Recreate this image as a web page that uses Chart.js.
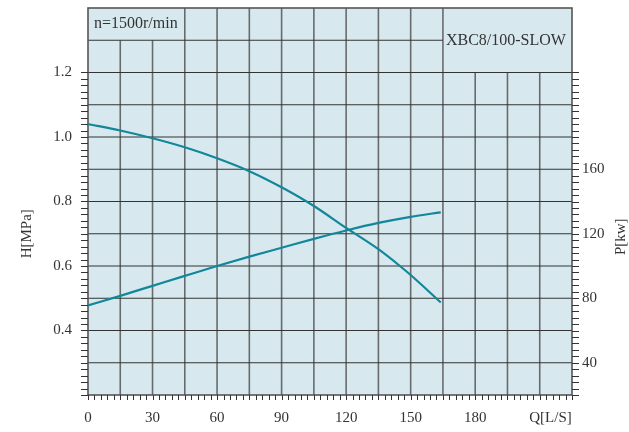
<!DOCTYPE html>
<html>
<head>
<meta charset="utf-8">
<script src="https://cdn.jsdelivr.net/npm/chart.js@4.4.1/dist/chart.umd.min.js"></script>
<style>
  html, body { margin: 0; padding: 0; background: #ffffff; }
  #wrap { width: 629px; height: 432px; position: relative; }
</style>
</head>
<body>
<div id="wrap"><canvas id="c" width="629" height="432"></canvas></div>
<script>
// ---- data ----
const Q_H = [0, 15, 30, 45, 60, 75, 90, 105, 120, 135, 145, 150, 164];
const H_VALUES = [1.04, 1.02, 0.996, 0.968, 0.934, 0.894, 0.844, 0.786, 0.718, 0.652, 0.600, 0.572, 0.487];
const Q_P = [0, 15, 30, 45, 60, 75, 90, 105, 120, 135, 150, 164];
const P_VALUES = [75.5, 81.5, 87.7, 93.9, 100, 105.8, 111.3, 116.8, 122.0, 126.7, 130.5, 133.3];
const X_TICKS = [0, 30, 60, 90, 120, 150, 180, 215];
const X_TICK_LABELS = ['0', '30', '60', '90', '120', '150', '180', 'Q[L/S]'];
const H_TICKS = [0.4, 0.6, 0.8, 1.0, 1.2];
const P_TICKS = [40, 80, 120, 160];
const SPEED_LABEL = 'n=1500r/min';
const MODEL_LABEL = 'XBC8/100-SLOW';
const H_TITLE = 'H[MPa]';
const P_TITLE = 'P[kw]';

const FONT = "'Liberation Serif', 'DejaVu Serif', serif";
const CURVE = '#13879a';
const TARGET_TOP = 8;

const gridPlugin = {
  id: 'pumpGrid',
  beforeDatasetsDraw(chart) {
    const ctx = chart.ctx;
    const sx = chart.scales.x, sy = chart.scales.y, sp = chart.scales.y1;
    const X = v => sx.getPixelForValue(v);
    const Y = v => sy.getPixelForValue(v);
    const YP = v => sp.getPixelForValue(v);
    const x0 = X(0), x1 = X(225), yT = Y(1.4), yB = Y(0.2);
    ctx.save();
    ctx.fillStyle = '#d7e9ef';
    ctx.fillRect(x0, yT, x1 - x0, yB - yT);

    const line = (ax, ay, bx, by) => { ctx.beginPath(); ctx.moveTo(ax, ay); ctx.lineTo(bx, by); ctx.stroke(); };

    // vertical grid lines
    ctx.strokeStyle = 'rgba(85,85,85,0.85)';
    ctx.lineWidth = 1.6;
    for (let q = 15; q <= 210; q += 15) {
      line(X(q), yB, X(q), Y(1.2));
      if (q <= 165) line(X(q), Y(1.2), X(q), Y(1.3));
      if (q >= 45 && q <= 165) line(X(q), Y(1.3), X(q), Y(1.4));
    }
    // horizontal grid lines
    ctx.strokeStyle = '#333333';
    ctx.lineWidth = 1.2;
    for (let i = 3; i <= 12; i++) {
      const h = i / 10;
      line(x0, Y(h), x1, Y(h));
    }
    line(x0, Y(1.3), X(165), Y(1.3));
    // frame
    ctx.strokeStyle = '#555555';
    ctx.lineWidth = 1.6;
    ctx.strokeRect(x0, yT, x1 - x0, yB - yT);

    // minor ticks
    ctx.strokeStyle = '#333333';
    ctx.lineWidth = 1;
    for (let i = 0; i <= 50; i++) {
      const y = Math.round(Y(0.2 + i * 0.02)) + 0.5;
      line(x0 - 7, y, x0, y);
    }
    for (let p = 20; p <= 220; p += 4) {
      const y = Math.round(YP(p)) + 0.5;
      line(x1, y, x1 + 7, y);
    }
    for (let q = 0; q <= 225; q += 3) {
      const x = Math.round(X(q)) + 0.5;
      line(x, yB, x, yB + 5);
    }

    // header labels
    ctx.fillStyle = '#333333';
    ctx.font = '16px ' + FONT;
    ctx.textBaseline = 'middle';
    ctx.textAlign = 'left';
    ctx.fillText(SPEED_LABEL, X(0) + 6, (Y(1.4) + Y(1.3)) / 2);
    ctx.fillText(MODEL_LABEL, X(165) + 3, Y(1.3) + 1);

    // axis titles
    ctx.font = '15px ' + FONT;
    ctx.textAlign = 'center';
    ctx.save();
    ctx.translate(27, (Y(1.2) + yB) / 2);
    ctx.rotate(-Math.PI / 2);
    ctx.fillText(H_TITLE, 0, 0);
    ctx.restore();
    ctx.save();
    ctx.translate(621, (Y(1.2) + yB) / 2 + 3);
    ctx.rotate(-Math.PI / 2);
    ctx.fillText(P_TITLE, 0, 0);
    ctx.restore();
    ctx.restore();
  }
};

const tickFont = { family: FONT, size: 15 };
const noPad = s => { s.paddingTop = 0; s.paddingBottom = 0; };

const chart = new Chart(document.getElementById('c'), {
  type: 'line',
  data: {
    datasets: [
      {
        label: 'H',
        data: Q_H.map((q, i) => ({ x: q, y: H_VALUES[i] })),
        yAxisID: 'y',
        borderColor: CURVE,
        borderWidth: 2.2,
        pointRadius: 0,
        cubicInterpolationMode: 'monotone',
        fill: false
      },
      {
        label: 'P',
        data: Q_P.map((q, i) => ({ x: q, y: P_VALUES[i] })),
        yAxisID: 'y1',
        borderColor: CURVE,
        borderWidth: 2.2,
        pointRadius: 0,
        cubicInterpolationMode: 'monotone',
        fill: false
      }
    ]
  },
  options: {
    responsive: false,
    animation: false,
    events: [],
    layout: { padding: { top: TARGET_TOP, left: 0, right: 0, bottom: 0 } },
    plugins: { legend: { display: false }, tooltip: { enabled: false } },
    scales: {
      x: {
        type: 'linear', min: 0, max: 225,
        grid: { display: false, drawTicks: false }, border: { display: false },
        afterBuildTicks: s => { s.ticks = X_TICKS.map(v => ({ value: v })); },
        afterFit: s => { s.height = 37; },
        ticks: {
          font: tickFont, color: '#333333', padding: 14, maxRotation: 0, autoSkip: false,
          callback: v => X_TICK_LABELS[X_TICKS.indexOf(v)]
        }
      },
      y: {
        type: 'linear', position: 'left', min: 0.2, max: 1.4,
        grid: { display: false, drawTicks: false }, border: { display: false },
        afterBuildTicks: s => { s.ticks = H_TICKS.map(v => ({ value: v })); },
        afterFit: s => { s.width = 88; noPad(s); },
        ticks: { font: tickFont, color: '#333333', padding: 16, callback: v => v.toFixed(1) }
      },
      y1: {
        type: 'linear', position: 'right', min: 20, max: 260,
        grid: { display: false, drawTicks: false }, border: { display: false },
        afterBuildTicks: s => { s.ticks = P_TICKS.map(v => ({ value: v })); },
        afterFit: s => { s.width = 57; noPad(s); },
        ticks: { font: tickFont, color: '#333333', padding: 10, callback: v => String(v) }
      }
    }
  },
  plugins: [gridPlugin]
});

// correct any extra space the layout adds above the plot area
const extra = chart.chartArea.top - TARGET_TOP;
if (Math.abs(extra) > 0.5) {
  chart.options.layout.padding.top = TARGET_TOP - extra;
  chart.update();
}
</script>
</body>
</html>
